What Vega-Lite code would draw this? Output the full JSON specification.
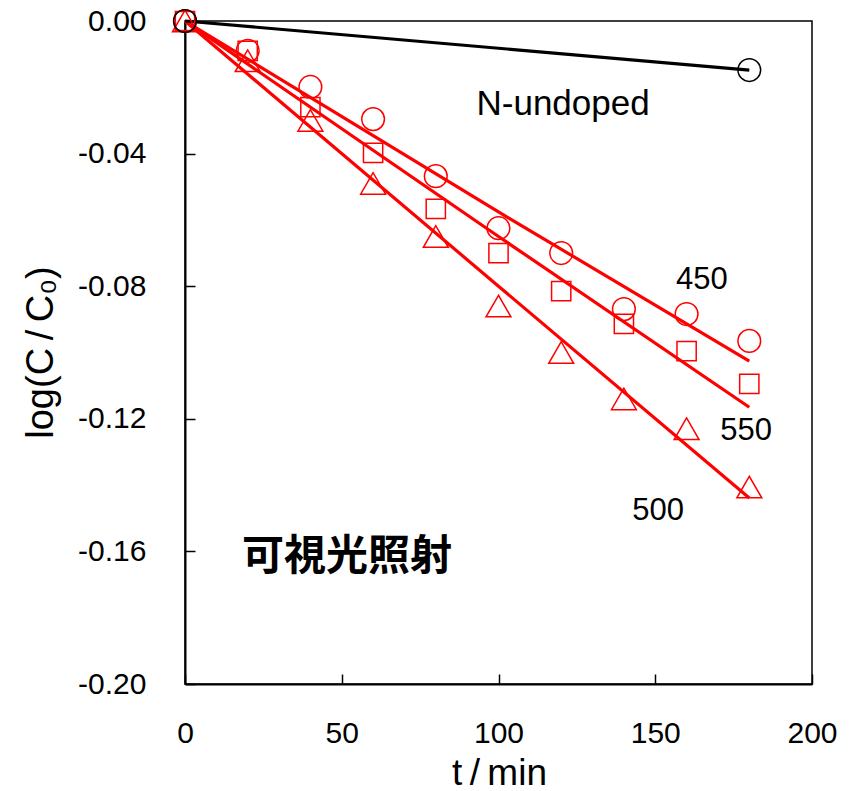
{
  "$schema": "https://vega.github.io/schema/vega-lite/v6.json",
  "width": 627,
  "height": 663,
  "autosize": {"type": "none"},
  "padding": {"left": 185, "top": 21, "right": 38, "bottom": 107},
  "background": "white",
  "config": {
    "view": {"stroke": "black", "strokeWidth": 1.5},
    "font": "Liberation Sans"
  },
  "datasets": {
    "pts": [
      {"t": 0, "v": 0, "s": "450"}, {"t": 20, "v": -0.009, "s": "450"}, {"t": 40, "v": -0.0199, "s": "450"},
      {"t": 60, "v": -0.0296, "s": "450"}, {"t": 80, "v": -0.0468, "s": "450"}, {"t": 100, "v": -0.0625, "s": "450"},
      {"t": 120, "v": -0.070, "s": "450"}, {"t": 140, "v": -0.0869, "s": "450"}, {"t": 160, "v": -0.0884, "s": "450"},
      {"t": 180, "v": -0.0965, "s": "450"},
      {"t": 0, "v": 0, "s": "550"}, {"t": 20, "v": -0.009, "s": "550"}, {"t": 40, "v": -0.026, "s": "550"},
      {"t": 60, "v": -0.0398, "s": "550"}, {"t": 80, "v": -0.0567, "s": "550"}, {"t": 100, "v": -0.070, "s": "550"},
      {"t": 120, "v": -0.0815, "s": "550"}, {"t": 140, "v": -0.0914, "s": "550"}, {"t": 160, "v": -0.0996, "s": "550"},
      {"t": 180, "v": -0.1095, "s": "550"},
      {"t": 0, "v": 0, "s": "500"}, {"t": 20, "v": -0.012, "s": "500"}, {"t": 40, "v": -0.030, "s": "500"},
      {"t": 60, "v": -0.049, "s": "500"}, {"t": 80, "v": -0.065, "s": "500"}, {"t": 100, "v": -0.086, "s": "500"},
      {"t": 120, "v": -0.100, "s": "500"}, {"t": 140, "v": -0.114, "s": "500"}, {"t": 160, "v": -0.123, "s": "500"},
      {"t": 180, "v": -0.1406, "s": "500"},
      {"t": 0, "v": 0, "s": "N-undoped"}, {"t": 180, "v": -0.0148, "s": "N-undoped"}
    ],
    "fits": [
      {"t": 0, "v": 0, "s": "450"}, {"t": 100, "v": -0.0576, "s": "450"}, {"t": 180, "v": -0.1026, "s": "450"},
      {"t": 0, "v": 0, "s": "550"}, {"t": 100, "v": -0.0650, "s": "550"}, {"t": 180, "v": -0.1165, "s": "550"},
      {"t": 0, "v": 0, "s": "500"}, {"t": 100, "v": -0.0800, "s": "500"}, {"t": 180, "v": -0.1439, "s": "500"},
      {"t": 0, "v": 0, "s": "N-undoped"}, {"t": 180, "v": -0.0148, "s": "N-undoped"}
    ]
  },
  "layer": [
    {
      "data": {"name": "fits"},
      "mark": {"type": "line", "strokeWidth": 3.2, "clip": false},
      "encoding": {
        "x": {
          "field": "t", "type": "quantitative",
          "scale": {"domain": [0, 200], "nice": false, "zero": false},
          "axis": {
            "values": [0, 50, 100, 150, 200], "grid": false, "tickSize": -10, "tickColor": "black",
            "tickWidth": 1.5, "domainColor": "black", "domainWidth": 2, "labelFlush": false,
            "labelFontSize": 30, "labelColor": "black", "labelPadding": 68, "labelBaseline": "alphabetic",
            "labelFont": "Liberation Sans",
            "title": "t\u2009/\u2009min", "titleFontSize": 37, "titleFontWeight": "normal", "titleColor": "black",
            "titleFont": "Liberation Sans", "titleBaseline": "alphabetic", "titleY": 100, "titleX": 314
          }
        },
        "y": {
          "field": "v", "type": "quantitative",
          "scale": {"domain": [-0.2, 0], "nice": false, "zero": false},
          "axis": {
            "values": [0, -0.04, -0.08, -0.12, -0.16, -0.2], "grid": false, "tickSize": -10, "tickColor": "black",
            "tickWidth": 1.5, "domainColor": "black", "domainWidth": 2, "labelFlush": false,
            "labelFontSize": 30, "labelColor": "black", "labelPadding": 49, "labelFont": "Liberation Sans",
            "labelExpr": "datum.value < 0 ? '-' + format(-datum.value, '.2f') : format(datum.value, '.2f')",
            "title": "log(C\u2009/\u2009C₀)", "titleFontSize": 38, "titleFontWeight": "normal", "titleColor": "black",
            "titleFont": "Liberation Sans", "titleAngle": -90, "titleBaseline": "middle", "titleX": -144, "titleY": 331
          }
        },
        "detail": {"field": "s"},
        "color": {
          "field": "s", "type": "nominal", "legend": null,
          "scale": {"domain": ["450", "550", "500", "N-undoped"], "range": ["#ff0000", "#ff0000", "#ff0000", "black"]}
        }
      }
    },
    {
      "data": {"name": "pts"},
      "transform": [{"filter": "datum.s == '500'"}],
      "mark": {"type": "point", "shape": "triangle-up", "filled": false, "strokeWidth": 1.5, "size": 620, "color": "#ff0000", "opacity": 1, "clip": false},
      "encoding": {
        "x": {"field": "t", "type": "quantitative"},
        "y": {"field": "v", "type": "quantitative"}
      }
    },
    {
      "data": {"name": "pts"},
      "transform": [{"filter": "datum.s == '550'"}],
      "mark": {"type": "point", "shape": "square", "filled": false, "strokeWidth": 1.5, "size": 370, "color": "#ff0000", "opacity": 1, "clip": false},
      "encoding": {
        "x": {"field": "t", "type": "quantitative"},
        "y": {"field": "v", "type": "quantitative"}
      }
    },
    {
      "data": {"name": "pts"},
      "transform": [{"filter": "datum.s == '450'"}],
      "mark": {"type": "point", "shape": "circle", "filled": false, "strokeWidth": 1.5, "size": 515, "color": "#ff0000", "opacity": 1, "clip": false},
      "encoding": {
        "x": {"field": "t", "type": "quantitative"},
        "y": {"field": "v", "type": "quantitative"}
      }
    },
    {
      "data": {"name": "pts"},
      "transform": [{"filter": "datum.s == 'N-undoped'"}],
      "mark": {"type": "point", "shape": "circle", "filled": false, "strokeWidth": 1.5, "size": 515, "color": "black", "opacity": 1, "clip": false},
      "encoding": {
        "x": {"field": "t", "type": "quantitative"},
        "y": {"field": "v", "type": "quantitative"}
      }
    },
    {
      "data": {"values": [{"t": 120.6, "v": -0.0284, "txt": "N-undoped"}]},
      "mark": {"type": "text", "font": "Liberation Sans", "fontSize": 35, "color": "black", "align": "center", "baseline": "alphabetic"},
      "encoding": {
        "x": {"field": "t", "type": "quantitative"},
        "y": {"field": "v", "type": "quantitative"},
        "text": {"field": "txt"}
      }
    },
    {
      "data": {"values": [
        {"t": 164.9, "v": -0.0809, "txt": "450"},
        {"t": 179.0, "v": -0.1264, "txt": "550"},
        {"t": 150.9, "v": -0.1505, "txt": "500"}
      ]},
      "mark": {"type": "text", "font": "Liberation Sans", "fontSize": 31, "color": "black", "align": "center", "baseline": "alphabetic"},
      "encoding": {
        "x": {"field": "t", "type": "quantitative"},
        "y": {"field": "v", "type": "quantitative"},
        "text": {"field": "txt"}
      }
    },
    {
      "data": {"values": [{"t": 51.7, "v": -0.1616, "txt": "可視光照射"}]},
      "mark": {"type": "text", "font": "Noto Sans CJK JP", "fontSize": 42, "fontWeight": "bold", "color": "black", "align": "center", "baseline": "middle"},
      "encoding": {
        "x": {"field": "t", "type": "quantitative"},
        "y": {"field": "v", "type": "quantitative"},
        "text": {"field": "txt"}
      }
    }
  ]
}
